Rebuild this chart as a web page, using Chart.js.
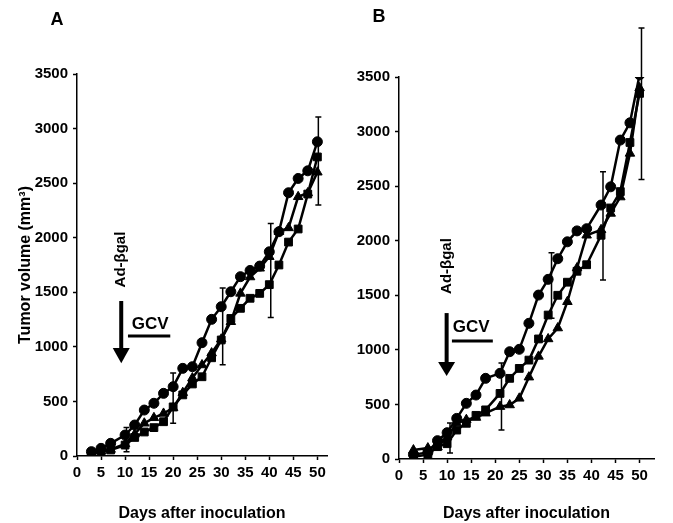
<!DOCTYPE html>
<html>
<head>
<meta charset="utf-8">
<script src="https://cdn.jsdelivr.net/npm/chart.js@4"></script>
<style>
  body { margin: 0; background: #fff; }
  #wrap { position: relative; width: 673px; height: 523px; overflow: hidden; }
  #cA { position: absolute; left: 0; top: 0; }
  #cB { position: absolute; left: 322px; top: 3px; }
</style>
</head>
<body>
<div id="wrap">
  <canvas id="cA" width="335" height="523"></canvas>
  <canvas id="cB" width="351" height="520"></canvas>
</div>
<script>
// panel A
const daysA = [3, 5, 7, 10, 12, 14, 16, 18, 20, 22, 24, 26, 28, 30, 32, 34, 36, 38, 40, 42, 44, 46, 48, 50];
const circleA = [40, 70, 116, 192, 284, 421, 483, 574, 635, 803, 818, 1038, 1252, 1368, 1505, 1643, 1700, 1740, 1871, 2055, 2412, 2543, 2613, 2879];
const squareA = [20, 40, 55, 100, 170, 220, 260, 314, 450, 560, 660, 726, 900, 1063, 1260, 1353, 1445, 1490, 1570, 1750, 1960, 2080, 2400, 2740];
const triangleA = [30, 45, 60, 110, 200, 300, 350, 390, 440, 580, 714, 834, 943, 1070, 1230, 1490, 1640, 1720, 1826, 2055, 2090, 2375, 2410, 2600];
const errDaysA = [10.3, 20, 30.3, 40.3, 50.2];
const errLowA = [40, 300, 835, 1270, 2300];
const errHighA = [260, 760, 1540, 2130, 3105];

// panel B
const daysB = [3, 6, 8, 10, 12, 14, 16, 18, 21, 23, 25, 27, 29, 31, 33, 35, 37, 39, 42, 44, 46, 48, 50];
const circleB = [40, 60, 168, 241, 372, 510, 586, 739, 785, 983, 1005, 1243, 1502, 1646, 1835, 1990, 2090, 2110, 2327, 2494, 2922, 3080, 3520];
const squareB = [20, 40, 113, 140, 265, 327, 400, 450, 601, 739, 830, 906, 1100, 1319, 1500, 1620, 1720, 1780, 2050, 2300, 2450, 2900, 3350];
const triangleB = [82, 100, 110, 200, 330, 360, 380, 420, 480, 495, 556, 750, 940, 1100, 1200, 1441, 1750, 2050, 2100, 2250, 2400, 2800, 3400];
const errDaysB = [10.6, 21.3, 31.7, 42.4, 50.4];
const errLowB = [55, 265, 1290, 1640, 2560];
const errHighB = [330, 880, 1890, 2632, 3950];

Chart.defaults.font.family = "'Liberation Sans', Arial, Helvetica, sans-serif";
Chart.defaults.color = '#000';

function series(days, vals, style, r) {
  return {
    data: days.map((d, i) => ({ x: d, y: vals[i] })),
    borderColor: '#000',
    backgroundColor: '#000',
    borderWidth: 2.5,
    pointStyle: style,
    pointRadius: r,
    pointBackgroundColor: '#000',
    pointBorderColor: '#000',
    pointBorderWidth: 1,
    tension: 0,
    fill: false
  };
}

// vertical error bars, drawn through the scales
const errorBars = {
  id: 'errorBars',
  afterDatasetsDraw(chart, args, opts) {
    const { ctx, scales: { x, y } } = chart;
    ctx.save();
    ctx.strokeStyle = '#000';
    ctx.lineWidth = 1.5;
    opts.days.forEach((d, i) => {
      const px = x.getPixelForValue(d);
      const lo = y.getPixelForValue(opts.low[i]);
      const hi = y.getPixelForValue(opts.high[i]);
      ctx.beginPath();
      ctx.moveTo(px, lo); ctx.lineTo(px, hi);
      ctx.moveTo(px - 3, lo); ctx.lineTo(px + 3, lo);
      ctx.moveTo(px - 3, hi); ctx.lineTo(px + 3, hi);
      ctx.stroke();
    });
    ctx.restore();
  }
};

// panel letter, Ad-bgal label, arrow and GCV bar
const notes = {
  id: 'notes',
  afterDraw(chart, args, o) {
    const { ctx, chartArea, scales: { x, y } } = chart;
    ctx.save();
    ctx.fillStyle = '#000';
    ctx.strokeStyle = '#000';

    ctx.font = "bold 18px 'Liberation Sans', Arial, sans-serif";
    ctx.textAlign = 'center';
    ctx.textBaseline = 'middle';
    ctx.fillText(o.letter, chartArea.left - 20, o.letterY);

    // rotated Ad-bgal
    ctx.save();
    ctx.translate(x.getPixelForValue(o.adX), y.getPixelForValue(o.adY));
    ctx.rotate(-Math.PI / 2);
    ctx.font = "bold 15px 'Liberation Sans', Arial, sans-serif";
    ctx.fillText('Ad-\u03B2gal', 0, 0);
    ctx.restore();

    // arrow
    const ax = x.getPixelForValue(o.arrowX);
    const top = y.getPixelForValue(o.arrowTop);
    const base = y.getPixelForValue(o.arrowBase);
    const tip = y.getPixelForValue(o.arrowTip);
    ctx.lineWidth = 4;
    ctx.beginPath();
    ctx.moveTo(ax, top); ctx.lineTo(ax, base + 1);
    ctx.stroke();
    ctx.beginPath();
    ctx.moveTo(ax - 8.5, base); ctx.lineTo(ax + 8.5, base); ctx.lineTo(ax, tip);
    ctx.closePath();
    ctx.fill();

    // GCV
    ctx.font = "bold 17px 'Liberation Sans', Arial, sans-serif";
    ctx.fillText('GCV', x.getPixelForValue(o.gcvX), y.getPixelForValue(o.gcvY));
    ctx.lineWidth = 3;
    const ly = y.getPixelForValue(o.barY);
    ctx.beginPath();
    ctx.moveTo(x.getPixelForValue(o.barFrom), ly);
    ctx.lineTo(x.getPixelForValue(o.barTo), ly);
    ctx.stroke();
    ctx.restore();
  }
};

function makeScales(xMax, xHeight, yTitle) {
  return {
    x: {
      type: 'linear', min: 0, max: xMax,
      afterFit: s => { s.height = xHeight; },
      border: { color: '#000', width: 1.5 },
      grid: { drawOnChartArea: false, color: '#000', tickLength: 4, tickWidth: 1.5 },
      ticks: { stepSize: 5, autoSkip: false, maxRotation: 0, includeBounds: false, color: '#000',
               font: { size: 15, weight: 'bold' }, padding: 4, callback: v => String(v) },
      title: { display: true, text: 'Days after inoculation', color: '#000',
               font: { size: 16, weight: 'bold' }, padding: { top: 0, bottom: 0 } }
    },
    y: {
      min: 0, max: 3500,
      afterFit: s => { s.width = 77; },
      border: { color: '#000', width: 1.5 },
      grid: { drawOnChartArea: false, color: '#000', tickLength: 4, tickWidth: 1.5 },
      ticks: { stepSize: 500, color: '#000', font: { size: 15, weight: 'bold' }, padding: 5,
               callback: v => String(v) },
      title: { display: yTitle, text: 'Tumor volume (mm\u00B3)', color: '#000',
               font: { size: 16, weight: 'bold' }, padding: { top: 16, bottom: 0 } }
    }
  };
}

new Chart(document.getElementById('cA'), {
  type: 'line',
  data: { datasets: [series(daysA, squareA, 'rect', 5.5), series(daysA, triangleA, 'triangle', 5.5), series(daysA, circleA, 'circle', 5)] },
  options: {
    responsive: false, animation: false,
    layout: { padding: { top: 74, right: 8, left: 0, bottom: 0 } },
    scales: makeScales(52, 67, true),
    plugins: {
      legend: { display: false }, tooltip: { enabled: false },
      errorBars: { days: errDaysA, low: errLowA, high: errHighA },
      notes: { letter: 'A', letterY: 20, adX: 9.2, adY: 1800,
               arrowX: 9.2, arrowTop: 1420, arrowBase: 990, arrowTip: 850,
               gcvX: 15.2, gcvY: 1209, barFrom: 10.6, barTo: 19.4, barY: 1099 }
    }
  },
  plugins: [errorBars, notes]
});

new Chart(document.getElementById('cB'), {
  type: 'line',
  data: { datasets: [series(daysB, squareB, 'rect', 5.5), series(daysB, triangleB, 'triangle', 5.5), series(daysB, circleB, 'circle', 5)] },
  options: {
    responsive: false, animation: false,
    layout: { padding: { top: 74, right: 19, left: 0, bottom: 0 } },
    scales: makeScales(53, 64, false),
    plugins: {
      legend: { display: false }, tooltip: { enabled: false },
      errorBars: { days: errDaysB, low: errLowB, high: errHighB },
      notes: { letter: 'B', letterY: 14, adX: 10, adY: 1768,
               arrowX: 9.9, arrowTop: 1337, arrowBase: 889, arrowTip: 760,
               gcvX: 15, gcvY: 1209, barFrom: 11, barTo: 19.5, barY: 1081 }
    }
  },
  plugins: [errorBars, notes]
});
</script>
</body>
</html>
